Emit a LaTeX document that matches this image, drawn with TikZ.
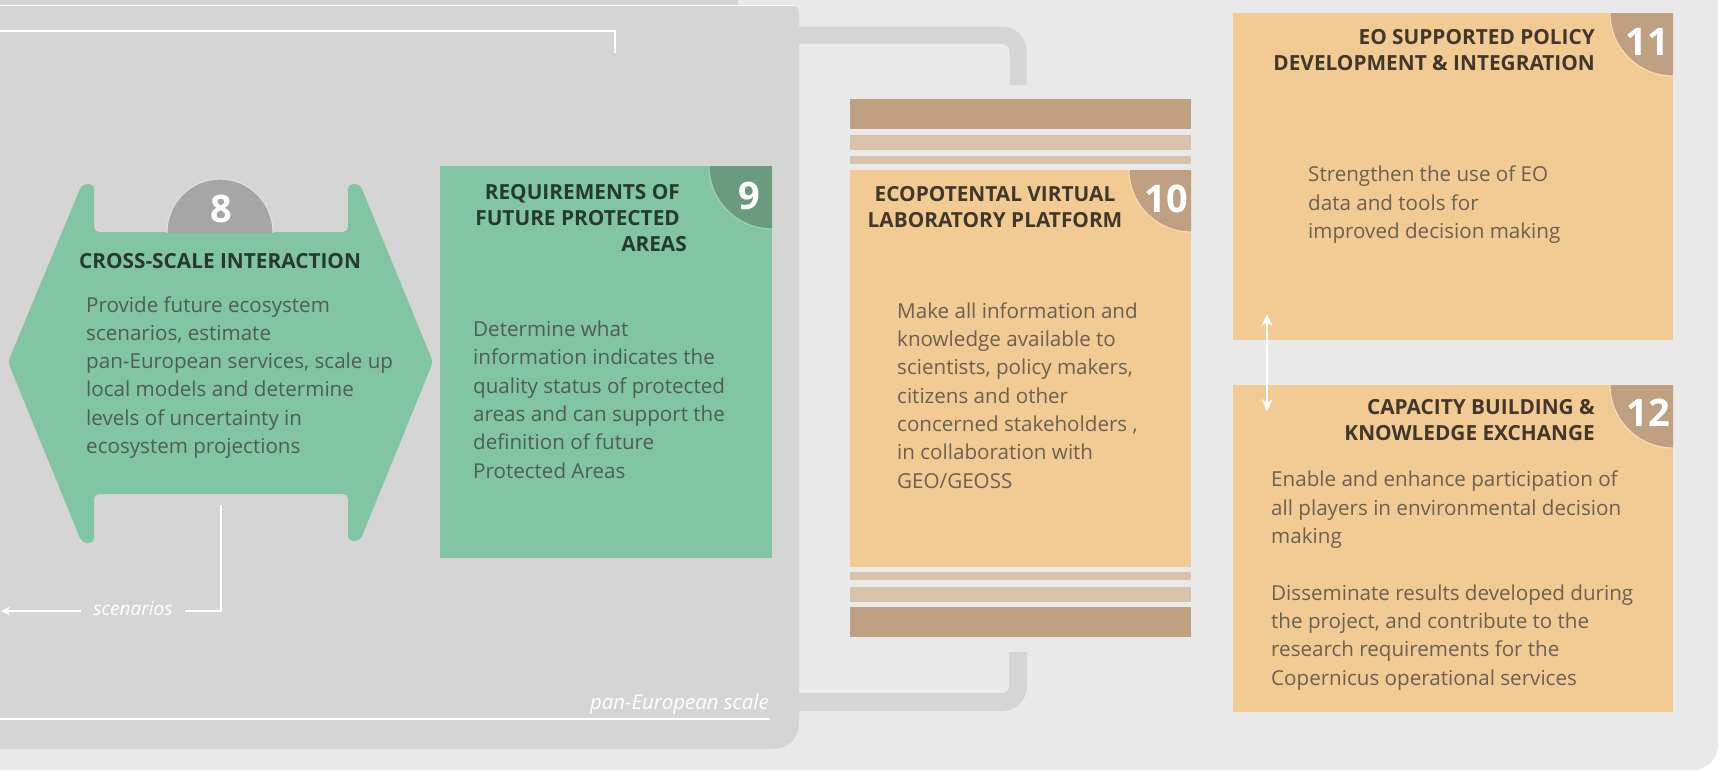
\documentclass[tikz,border=0pt]{standalone}
\usepackage{fontspec}
\setmainfont{Open Sans}
\usetikzlibrary{arrows.meta}
\definecolor{outerbg}{HTML}{E9E9E9}
\definecolor{panelgray}{HTML}{D5D5D5}
\definecolor{tealgreen}{HTML}{82C5A5}
\definecolor{greendark}{HTML}{6A9B7E}
\definecolor{greenedge}{HTML}{9AD3B6}
\definecolor{sand}{HTML}{F1CB93}
\definecolor{sandedge}{HTML}{F6DCB3}
\definecolor{brown}{HTML}{BFA083}
\definecolor{lightbrown}{HTML}{D8C3AA}
\definecolor{badgegray}{HTML}{A6A6A6}
\definecolor{greenhead}{HTML}{263A2E}
\definecolor{greenbody}{HTML}{4E5E54}
\definecolor{sandhead}{HTML}{41372B}
\definecolor{sandbody}{HTML}{6B6152}
\begin{document}
\begin{tikzpicture}[x=1pt, y=-1pt,
  box/.style={anchor=north west, inner sep=0pt, outer sep=0pt},
  greenbox/.style={box, fill=tealgreen},
  sandbox/.style={box, fill=sand},
  bar/.style={box, minimum width=341pt},
  head/.style={inner sep=0pt, font=\bfseries\fontsize{20.8}{26}\selectfont},
  body/.style={inner sep=0pt, align=left, anchor=base west, font=\fontsize{20.6}{28.3}\selectfont},
  num/.style={inner sep=0pt, anchor=base, text=white, font=\bfseries\fontsize{38}{38}\selectfont},
  wline/.style={draw=white, line width=1.6pt},
  pipe/.style={draw=panelgray, line width=17pt, rounded corners=16pt}
]
\useasboundingbox (0,0) rectangle (1720,771);
\fill[white] (0,0) rectangle (1720,771);
\fill[outerbg] (-10,-10) -- (1718,-10) -- (1718,745)
  arc[start angle=0, end angle=-90, radius=25pt] -- (-10,770) -- cycle;

% pipes to the platform
\draw[pipe] (790,35) -- (1018,35) -- (1018,85);
\draw[pipe, line width=18pt] (1018,652) -- (1018,702) -- (790,702);

% pan-European panel
\fill[panelgray] (-10,-10) rectangle (738,5);
\fill[panelgray] (-10,5) -- (791,5) arc[start angle=90, end angle=0, radius=8pt]
  -- (799,724) arc[start angle=0, end angle=-90, radius=25pt] -- (-10,749) -- cycle;
\draw[wline] (0,5.5) -- (794,5.5);
\coordinate (topa) at (0,31);
\coordinate (topb) at (615,31);
\coordinate (topc) at (615,53);
\draw[wline] (topa) -- (topb) -- (topc);

% 8: cross-scale interaction
\fill[tealgreen, rounded corners=5pt] (94,232) -- (94,184) -- (82,184) -- (8,362)
  -- (82,543) -- (94,543) -- (94,494) -- (348,494) -- (348,541) -- (360,541)
  -- (433,362) -- (360,184) -- (348,184) -- (348,232) -- cycle;
\begin{scope}
  \clip (150,150) rectangle (300,232);
  \filldraw[fill=badgegray, draw=white!88!black, line width=1.2pt] (220,232) circle[radius=53pt];
\end{scope}
\node[num] (n8) at (221,222) {8};
\node[head, text=greenhead, anchor=base] (crosshead) at (220,268) {CROSS-SCALE INTERACTION};
\node[body, text=greenbody] (crossbody) at (86,453.5) {Provide future ecosystem\\scenarios, estimate\\pan-European services, scale up\\local models and determine\\levels of uncertainty in\\ecosystem projections};

% 9: requirements
\node[greenbox, minimum width=332pt, minimum height=392pt] (req) at (440,166) {};
\begin{scope}
  \clip (req.south west) rectangle (req.north east);
  \filldraw[fill=greendark, draw=greenedge, line width=1.2pt] (req.north east) circle[radius=63pt];
\end{scope}
\node[num] (n9) at (749,209) {9};
\node[head, text=greenhead, align=right, anchor=base east] (reqhead) at (687,251) {REQUIREMENTS OF\kern7pt\\FUTURE PROTECTED\kern7pt\\AREAS};
\node[body, text=greenbody] (reqbody) at (473,478) {Determine what\\information indicates the\\quality status of protected\\areas and can support the\\definition of future\\Protected Areas};

% 10: virtual laboratory platform
\node[bar, fill=brown, minimum height=30pt] (bara) at (850,99) {};
\node[bar, fill=lightbrown, minimum height=15pt] (barb) at (850,135) {};
\node[bar, fill=lightbrown, minimum height=8pt] (barc) at (850,156) {};
\node[sandbox, minimum width=341pt, minimum height=397pt] (vlab) at (850,170) {};
\node[bar, fill=lightbrown, minimum height=8pt] (bard) at (850,572) {};
\node[bar, fill=lightbrown, minimum height=15pt] (bare) at (850,587) {};
\node[bar, fill=brown, minimum height=30pt] (barf) at (850,607) {};
\begin{scope}
  \clip (vlab.south west) rectangle (vlab.north east);
  \filldraw[fill=brown, draw=sandedge, line width=1.2pt] (vlab.north east) circle[radius=62pt];
\end{scope}
\node[num] (n10) at (1166,212) {10};
\node[head, text=sandhead, align=center, anchor=base] (vlabhead) at (995,227) {ECOPOTENTAL VIRTUAL\\LABORATORY PLATFORM};
\node[body, text=sandbody] (vlabbody) at (897,488) {Make all information and\\knowledge available to\\scientists, policy makers,\\citizens and other\\concerned stakeholders ,\\in collaboration with\\GEO/GEOSS};

% 11: policy
\node[sandbox, minimum width=440pt, minimum height=327pt] (policy) at (1233,13) {};
\begin{scope}
  \clip (policy.south west) rectangle (policy.north east);
  \filldraw[fill=brown, draw=sandedge, line width=1.2pt] (policy.north east) circle[radius=63pt];
\end{scope}
\node[num] (n11) at (1647,55) {11};
\node[head, text=sandhead, align=right, anchor=base east] (policyhead) at (1595,70) {EO SUPPORTED POLICY\\DEVELOPMENT \& INTEGRATION};
\node[body, text=sandbody] (policybody) at (1308,238.5) {Strengthen the use of EO\\data and tools for\\improved decision making};

% 12: capacity building
\node[sandbox, minimum width=440pt, minimum height=327pt] (capacity) at (1233,385) {};
\begin{scope}
  \clip (capacity.south west) rectangle (capacity.north east);
  \filldraw[fill=brown, draw=sandedge, line width=1.2pt] (capacity.north east) circle[radius=63pt];
\end{scope}
\node[num] (n12) at (1648,426) {12};
\node[head, text=sandhead, align=right, anchor=base east] (capacityhead) at (1595,440.5) {CAPACITY BUILDING \&\\KNOWLEDGE EXCHANGE};
\node[body, text=sandbody] (capacitybody) at (1271,685) {Enable and enhance participation of\\all players in environmental decision\\making\\[28.3pt]Disseminate results developed during\\the project, and contribute to the\\research requirements for the\\Copernicus operational services};

\coordinate (arrup) at (1267,314);
\coordinate (arrdn) at (1267,411);
\draw[wline, line width=1.8pt, {Stealth[length=12pt, width=11pt]}-{Stealth[length=12pt, width=11pt]}] (arrup) -- (arrdn);

% scenarios
\node[inner sep=0pt, inner xsep=12pt, text=white, font=\itshape\fontsize{19}{19}\selectfont] (scen) at (133,609) {scenarios};
\coordinate (scentop) at (221,505);
\coordinate (scencorner) at (221,611);
\coordinate (scenend) at (1,611);
\draw[wline] (scentop) -- (scencorner) -- (scen.east |- scencorner);
\draw[wline, -{Stealth[length=9pt, width=9pt]}] (scen.west |- scencorner) -- (scenend);

\node[inner sep=0pt, anchor=base east, text=white, font=\itshape\fontsize{20.4}{21}\selectfont] (panlbl) at (769,709) {pan-European scale};
\coordinate (pana) at (0,719);
\coordinate (panb) at (770,719);
\draw[wline, line width=2pt] (pana) -- (panb);
\end{tikzpicture}
\end{document}
